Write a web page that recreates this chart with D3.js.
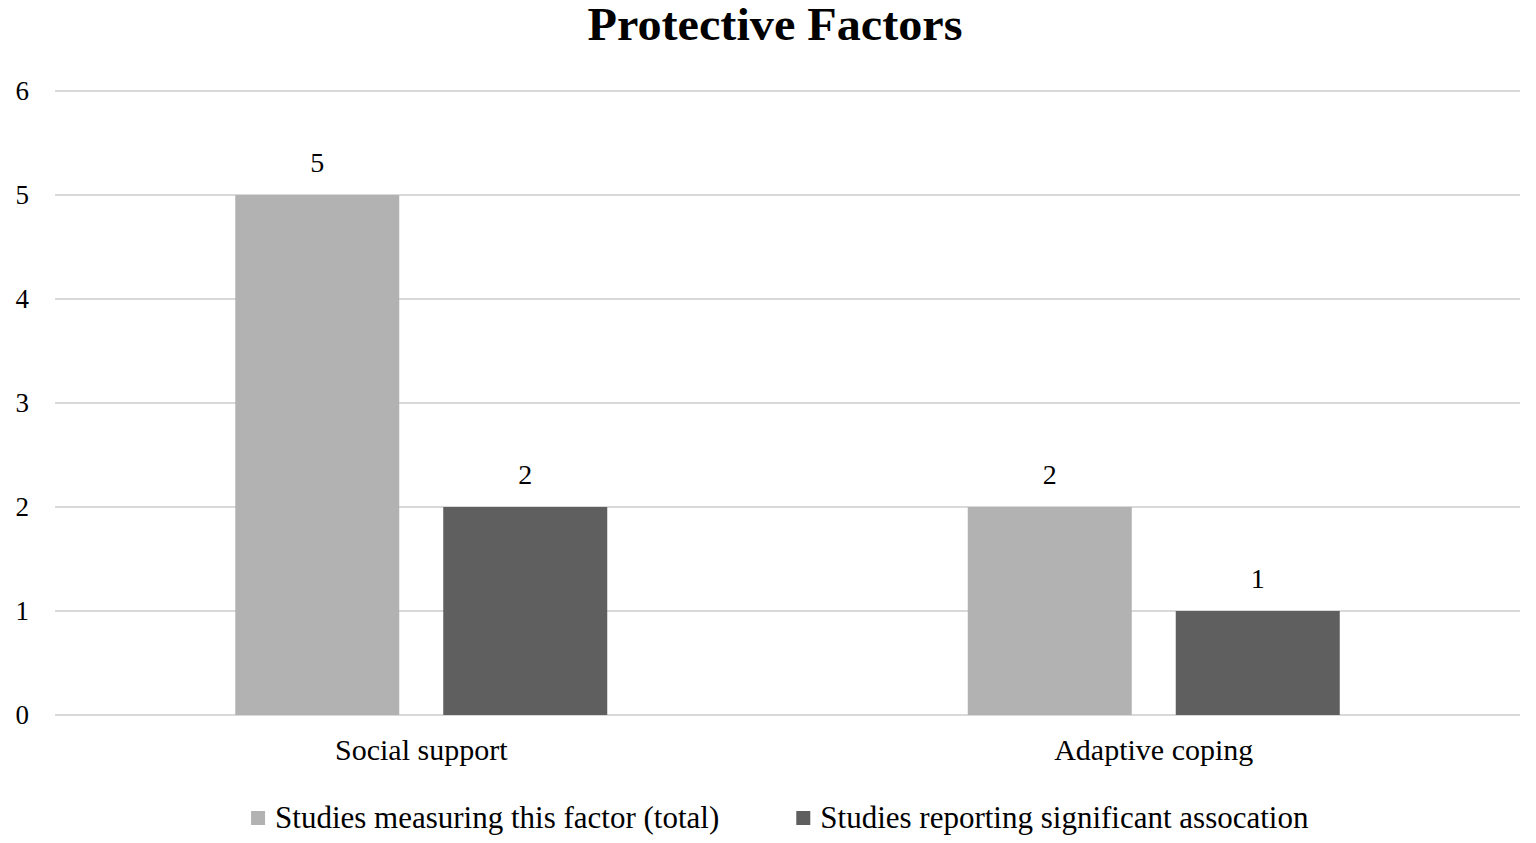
<!DOCTYPE html>
<html>
<head>
<meta charset="utf-8">
<script src="https://cdn.jsdelivr.net/npm/d3@7"></script>
<style>
  body { margin: 0; background: #fff; }
  text { font-family: "Liberation Serif", "Times New Roman", serif; fill: #000; }
</style>
</head>
<body>
<div id="chart"></div>
<script>
var categories = ["Social support", "Adaptive coping"];
var seriesNames = ["Studies measuring this factor (total)", "Studies reporting significant assocation"];
var totalStudies = [5, 2];
var significantStudies = [2, 1];
var yTicks = [0, 1, 2, 3, 4, 5, 6];
var colors = ["#b2b2b2", "#5f5f5f"];

var width = 1536, height = 843;
var margin = { top: 91, right: 16, bottom: 128, left: 55 };

var svg = d3.select("#chart").append("svg")
    .attr("width", width)
    .attr("height", height);

var x0 = d3.scaleBand()
    .domain(categories)
    .range([margin.left, width - margin.right])
    .padding(0);

var x1 = d3.scaleBand()
    .domain(seriesNames)
    .range([0, x0.bandwidth()])
    .paddingInner(0.2115)
    .paddingOuter(0.8666);

var y = d3.scaleLinear()
    .domain([0, 6])
    .range([height - margin.bottom, margin.top]);

// gridlines
svg.append("g")
    .selectAll("line")
    .data(yTicks)
    .join("line")
    .attr("x1", margin.left)
    .attr("x2", width - margin.right)
    .attr("y1", d => y(d))
    .attr("y2", d => y(d))
    .attr("stroke", "#d9d9d9")
    .attr("stroke-width", 2);

// y tick labels
svg.append("g")
    .selectAll("text")
    .data(yTicks)
    .join("text")
    .attr("x", 29)
    .attr("y", d => y(d))
    .attr("dy", "0.35em")
    .attr("text-anchor", "end")
    .style("font-size", "27px")
    .text(d => d);

var rows = [];
categories.forEach(function(c, i) {
    rows.push({ cat: c, series: seriesNames[0], value: totalStudies[i], color: colors[0] });
    rows.push({ cat: c, series: seriesNames[1], value: significantStudies[i], color: colors[1] });
});

// bars
svg.append("g")
    .selectAll("rect")
    .data(rows)
    .join("rect")
    .attr("x", d => x0(d.cat) + x1(d.series))
    .attr("y", d => y(d.value))
    .attr("width", x1.bandwidth())
    .attr("height", d => y(0) - y(d.value))
    .attr("fill", d => d.color);

// value labels
svg.append("g")
    .selectAll("text")
    .data(rows)
    .join("text")
    .attr("x", d => x0(d.cat) + x1(d.series) + x1.bandwidth() / 2)
    .attr("y", d => y(d.value) - 23)
    .attr("text-anchor", "middle")
    .style("font-size", "28px")
    .text(d => d.value);

// category labels
svg.append("g")
    .selectAll("text")
    .data(categories)
    .join("text")
    .attr("x", d => x0(d) + x0.bandwidth() / 2)
    .attr("y", 760)
    .attr("text-anchor", "middle")
    .style("font-size", "30px")
    .text(d => d);

// title
svg.append("text")
    .attr("x", 775)
    .attr("y", 40)
    .attr("text-anchor", "middle")
    .style("font-size", "46px")
    .style("font-weight", "bold")
    .attr("textLength", 375)
    .attr("lengthAdjust", "spacingAndGlyphs")
    .text("Protective Factors");

// legend
var legend = svg.append("g");
var items = legend.selectAll("g")
    .data(seriesNames)
    .join("g");
items.append("rect")
    .attr("width", 14)
    .attr("height", 14)
    .attr("y", 811)
    .attr("fill", (d, i) => colors[i]);
items.append("text")
    .attr("x", 24)
    .attr("y", 828)
    .style("font-size", "31px")
    .text(d => d);

var offset = 0, positions = [];
items.each(function() {
    positions.push(offset);
    offset += this.getBBox().width + 77;
});
offset -= 77;
var startX = 780 - offset / 2;
items.attr("transform", (d, i) => "translate(" + (startX + positions[i]) + ",0)");
</script>
</body>
</html>
